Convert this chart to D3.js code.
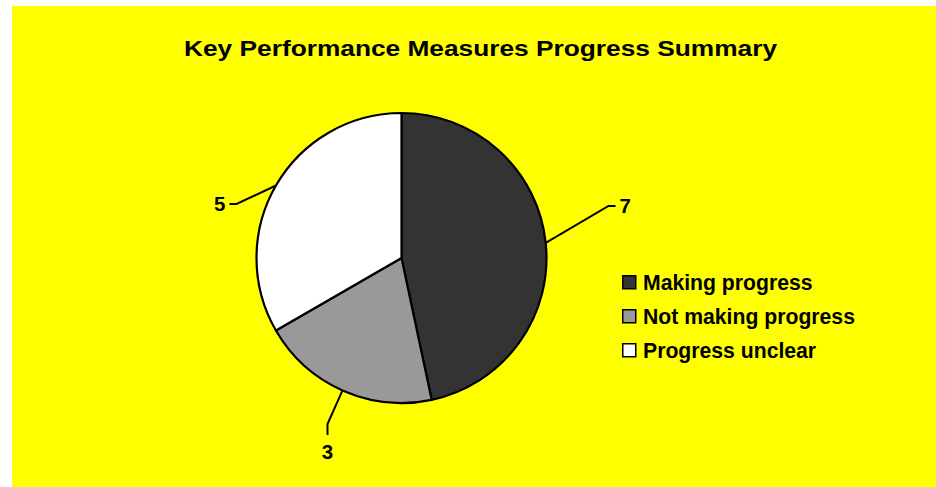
<!DOCTYPE html>
<html>
<head>
<meta charset="utf-8">
<script src="https://cdn.jsdelivr.net/npm/d3@7"></script>
<style>
  html, body { margin: 0; padding: 0; background: #ffffff; }
  svg { display: block; }
  text { font-family: "Liberation Sans", Arial, sans-serif; font-weight: bold; fill: #000; }
</style>
</head>
<body>
<svg id="chart" width="936" height="487"></svg>
<script>
// ---- data ----
const categories = ["Making progress", "Not making progress", "Progress unclear"];
const values = [7, 3, 5];
const colors = ["#333333", "#999999", "#ffffff"];
const title = "Key Performance Measures Progress Summary";

// ---- layout ----
const W = 936, H = 487;
const cx = 401.5, cy = 258, R = 145;
// leader line elbow/end positions relative to pie centre (layout only)
const leaderLayout = [
  { elbow: [207, -52], end: [214, -52], anchor: "start", tx: 218, ty: -52 },
  { elbow: [-74, 166], end: [-74, 177], anchor: "middle", tx: -74, ty: 194 },
  { elbow: [-165, -54], end: [-172, -54], anchor: "end", tx: -176, ty: -54 }
];

const svg = d3.select("#chart");

// background
svg.append("rect").attr("x", 12).attr("y", 6).attr("width", W - 12).attr("height", H - 6)
  .attr("fill", "#ffff00");

// title: wide bold face, stretched horizontally to the reference width
const titleSize = 21.5;
const tg = svg.append("g").attr("transform", `translate(480.5,56) scale(1.22,1)`);
tg.append("text")
  .attr("x", 0).attr("y", 0)
  .attr("text-anchor", "middle")
  .attr("font-size", titleSize)
  .attr("textLength", 593 / 1.22)
  .attr("lengthAdjust", "spacingAndGlyphs")
  .text(title);

// pie
const pie = d3.pie().sort(null).value(d => d)(values);
const arc = d3.arc().innerRadius(0).outerRadius(R);
const g = svg.append("g").attr("transform", `translate(${cx},${cy})`);

g.selectAll("path.slice").data(pie).enter().append("path")
  .attr("class", "slice")
  .attr("d", arc)
  .attr("fill", (d, i) => colors[i])
  .attr("stroke", "#000")
  .attr("stroke-width", 2.2)
  .attr("stroke-linejoin", "round");

// leader lines and labels
pie.forEach((d, i) => {
  const a = (d.startAngle + d.endAngle) / 2;
  const sx = R * Math.sin(a), sy = -R * Math.cos(a);
  const L = leaderLayout[i];
  g.append("polyline")
    .attr("points", [[sx, sy], L.elbow, L.end].map(p => p.join(",")).join(" "))
    .attr("fill", "none")
    .attr("stroke", "#000")
    .attr("stroke-width", 2);
  g.append("text")
    .attr("x", L.tx).attr("y", L.ty)
    .attr("dy", "0.35em")
    .attr("text-anchor", L.anchor)
    .attr("font-size", 20.5)
    .text(values[i]);
});

// legend
const legend = svg.append("g").attr("transform", "translate(622,275)");
const rowH = 34;
categories.forEach((c, i) => {
  const row = legend.append("g").attr("transform", `translate(0,${i * rowH})`);
  row.append("rect")
    .attr("x", 0.75).attr("y", 0.75)
    .attr("width", 13).attr("height", 13)
    .attr("fill", colors[i])
    .attr("stroke", "#000")
    .attr("stroke-width", 1.5);
  row.append("text")
    .attr("x", 21).attr("y", 14.5)
    .attr("font-size", 21.2)
    .text(c);
});
</script>
</body>
</html>
